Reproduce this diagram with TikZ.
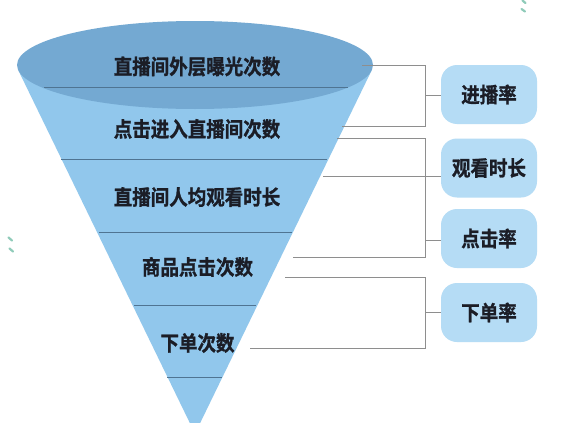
\documentclass[tikz,border=0pt]{standalone}
\usepackage{fontspec}
\usepackage{graphicx}
\setmainfont{Noto Sans CJK SC}[BoldFont=* Bold, BoldFeatures={FakeBold=1.2}]
\newcommand{\tallt}[1]{\scalebox{1}[1.13]{#1}}
\begin{document}
\begin{tikzpicture}[x=1pt,y=-1pt,
  conefill/.style={fill=coneblue, draw=none},
  slice/.style={draw=sliceline, line width=0.9pt},
  lbl/.style={font=\fontsize{18.5}{20}\selectfont\bfseries, text=txtdark, inner sep=0pt},
  ratebox/.style={fill=boxblue, draw=none, rounded corners=16pt, minimum width=96pt, minimum height=59pt, inner sep=0pt, font=\fontsize{18.5}{20}\selectfont\bfseries, text=txtdark},
  br/.style={draw=brgray, line width=0.9pt},
  deco/.style={draw=decoteal, line width=2.2pt, line cap=round}
]
\definecolor{coneblue}{HTML}{91C7EC}
\definecolor{topblue}{HTML}{74A9D2}
\definecolor{sliceline}{HTML}{4F7492}
\definecolor{boxblue}{HTML}{B5DCF5}
\definecolor{txtdark}{HTML}{1B1D26}
\definecolor{brgray}{HTML}{8E8E8E}
\definecolor{decoteal}{HTML}{8FCBB9}
\useasboundingbox (0,0) rectangle (576,423);
\fill[white] (0,0) rectangle (576,423);
\begin{scope}
\clip (0,0) rectangle (576,423);
% cone body
\path[conefill] (18.3,70.25) -- (195,433.6) -- (371.7,70.25) -- cycle;
% top ellipse
\fill[topblue] (195,65) ellipse [x radius=178, y radius=44];
\end{scope}
% slice lines
\draw[slice] (44,87.5) -- (348,87.5);
\draw[slice] (61,159) -- (327,159);
\draw[slice] (98.5,232) -- (292,232);
\draw[slice] (134,305) -- (256,305);
\draw[slice] (167,377) -- (222,377);
% funnel labels
\node[lbl] (t1) at (197,66.5) {\tallt{直播间外层曝光次数}};
\node[lbl] (t2) at (197,129) {\tallt{点击进入直播间次数}};
\node[lbl] (t3) at (197,197) {\tallt{直播间人均观看时长}};
\node[lbl] (t4) at (197.5,267) {\tallt{商品点击次数}};
\node[lbl] (t5) at (197.5,343) {\tallt{下单次数}};
% rate boxes
\node[ratebox] (b1) at (489,94.5) {\tallt{进播率}};
\node[ratebox] (b2) at (489,168) {\tallt{观看时长}};
\node[ratebox] (b3) at (489,238.5) {\tallt{点击率}};
\node[ratebox] (b4) at (489,312.5) {\tallt{下单率}};
% bracket end points
\coordinate (a1) at (362,65);
\coordinate (z1) at (342,126);
\coordinate (a2) at (337,138.3);
\coordinate (m2) at (323,176);
\coordinate (z2) at (292.7,257.7);
\coordinate (a3) at (285,277);
\coordinate (z3) at (250,348.5);
\coordinate (v1) at (425,95);
\coordinate (v3) at (425,240);
\coordinate (v4) at (425,312.7);
% brackets
\draw[br] (a1) -- (a1 -| v1) -- (z1 -| v1) -- (z1);
\draw[br] (v1) -- (v1 -| b1.west);
\draw[br] (a2) -- (a2 -| v1) -- (z2 -| v1) -- (z2);
\draw[br] (m2) -- (m2 -| b2.west);
\draw[br] (v3) -- (v3 -| b3.west);
\draw[br] (a3) -- (a3 -| v1) -- (z3 -| v1) -- (z3);
\draw[br] (v4) -- (v4 -| b4.west);
% small decorative marks
\draw[deco] (8.5,237.5) -- (12,240.5);
\draw[deco] (9.5,248.5) -- (13,251.5);
\draw[deco] (522.5,0.5) -- (525.5,3);
\draw[deco] (521.5,9) -- (525,11.5);
\end{tikzpicture}
\end{document}
